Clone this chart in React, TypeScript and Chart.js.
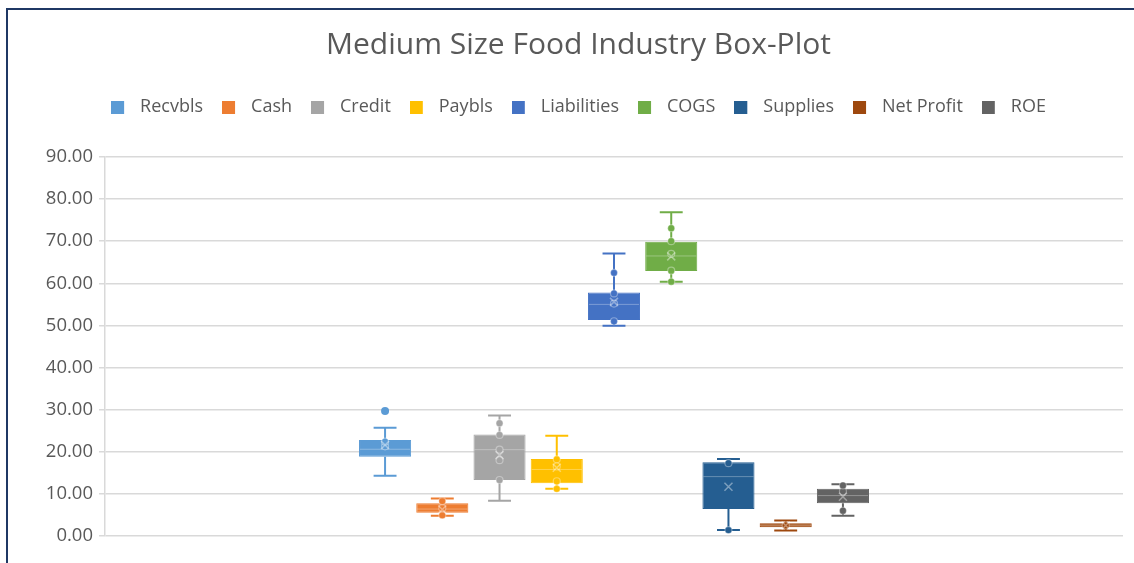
import React, { useEffect, useRef } from "react";
import { Chart, registerables } from "chart.js";

Chart.register(...registerables);

const chartTitle = "Medium Size Food Industry Box-Plot";
const categories = [""];
const seriesNames = ["Recvbls", "Cash", "Credit", "Paybls", "Liabilities", "COGS", "Supplies", "Net Profit", "ROE"];
const seriesColors = ["#5B9BD5", "#ED7D31", "#A5A5A5", "#FFC000", "#4472C4", "#70AD47", "#255E91", "#9E480E", "#636363"];
const minValues = [14.3, 4.8, 8.4, 11.2, 49.9, 60.4, 1.4, 1.3, 4.8];
const q1Values = [18.8, 5.5, 13.3, 12.5, 51.3, 62.9, 6.4, 2.1, 7.8];
const medianValues = [20.6, 6.4, 20.5, 15.8, 55.0, 66.5, 14.1, 2.5, 9.6];
const q3Values = [22.8, 7.8, 24.1, 18.3, 57.8, 69.9, 17.5, 3.0, 11.2];
const maxValues = [25.7, 8.9, 28.6, 23.8, 67.1, 76.9, 18.3, 3.7, 12.3];
const meanValues = [21.6, 6.3, 19.2, 16.2, 55.6, 66.4, 11.7, 2.5, 9.3];
const innerPoints = [
  [21.3, 22.4],
  [4.9, 6.6, 8.3],
  [26.8, 24.0, 20.5, 18.0, 13.3],
  [18.2, 16.5, 13.0, 11.2],
  [62.5, 57.6, 55.2, 51.0],
  [73.1, 70.0, 67.0, 63.0, 60.4],
  [1.4, 17.3],
  [2.5],
  [6.0, 10.6, 12.0],
];
const outlierPoints = [[29.7], [], [], [], [], [], [], [], []];
const yTicks = [0, 10, 20, 30, 40, 50, 60, 70, 80, 90];

const FONT = "'Open Sans', 'Noto Sans', sans-serif";
const TEXT_COLOR = "#595959";
const LEGEND_EXTRA = 31;

const boxPlotPlugin = {
  id: "boxPlotMarks",
  beforeInit(chart: any) {
    const legend = chart.legend;
    if (legend && !legend.__patched) {
      const origFit = legend.fit;
      legend.fit = function () {
        origFit.call(this);
        this.height += LEGEND_EXTRA;
      };
      legend.__patched = true;
    }
  },
  afterDatasetsDraw(chart: any) {
    const ctx = chart.ctx;
    const y = chart.scales.y;
    chart.data.datasets.forEach((ds: any, i: number) => {
      const meta = chart.getDatasetMeta(i);
      const bar: any = meta.data[0];
      if (!bar) return;
      const cx = bar.x;
      const w = bar.width;
      const color = seriesColors[i];
      const py = (v: number) => y.getPixelForValue(v);
      ctx.save();
      ctx.strokeStyle = color;
      ctx.lineWidth = 2;
      ctx.beginPath();
      ctx.moveTo(cx, py(q3Values[i]));
      ctx.lineTo(cx, py(maxValues[i]));
      ctx.moveTo(cx, py(q1Values[i]));
      ctx.lineTo(cx, py(minValues[i]));
      const cap = w * 0.22;
      ctx.moveTo(cx - cap, py(maxValues[i]));
      ctx.lineTo(cx + cap, py(maxValues[i]));
      ctx.moveTo(cx - cap, py(minValues[i]));
      ctx.lineTo(cx + cap, py(minValues[i]));
      ctx.stroke();
      ctx.lineWidth = 1;
      ctx.strokeStyle = "rgba(255,255,255,0.3)";
      ctx.beginPath();
      ctx.moveTo(cx - w / 2 + 1, py(medianValues[i]));
      ctx.lineTo(cx + w / 2 - 1, py(medianValues[i]));
      ctx.stroke();
      innerPoints[i].forEach((v) => {
        ctx.beginPath();
        ctx.arc(cx, py(v), 3.5, 0, Math.PI * 2);
        ctx.fillStyle = color;
        ctx.fill();
        ctx.lineWidth = 1.2;
        ctx.strokeStyle = "rgba(255,255,255,0.35)";
        ctx.stroke();
      });
      outlierPoints[i].forEach((v) => {
        ctx.beginPath();
        ctx.arc(cx, py(v), 4, 0, Math.PI * 2);
        ctx.fillStyle = color;
        ctx.fill();
      });
      const m = py(meanValues[i]);
      ctx.strokeStyle = "rgba(255,255,255,0.4)";
      ctx.lineWidth = 1.5;
      ctx.beginPath();
      ctx.moveTo(cx - 4, m - 4);
      ctx.lineTo(cx + 4, m + 4);
      ctx.moveTo(cx + 4, m - 4);
      ctx.lineTo(cx - 4, m + 4);
      ctx.stroke();
      ctx.restore();
    });
  },
};

function makeLegendSwatch(color: string) {
  const c = document.createElement("canvas");
  c.width = 20;
  c.height = 13;
  const g = c.getContext("2d");
  if (g) {
    g.fillStyle = color;
    g.fillRect(0, 0, 13, 13);
  }
  return c;
}

export default function App() {
  const canvasRef = useRef<HTMLCanvasElement | null>(null);

  useEffect(() => {
    if (!canvasRef.current) return;
    const swatches = seriesColors.map((c) => makeLegendSwatch(c));
    const chart = new Chart(canvasRef.current, {
      type: "bar",
      data: {
        labels: categories,
        datasets: seriesNames.map((name, i) => ({
          label: name,
          data: [[q1Values[i], q3Values[i]]] as any,
          backgroundColor: seriesColors[i],
          borderColor: seriesColors[i],
          borderWidth: 1,
          borderSkipped: false,
          categoryPercentage: 0.506,
          barPercentage: 0.91,
        })),
      },
      options: {
        animation: false,
        responsive: false,
        maintainAspectRatio: false,
        layout: { padding: { left: 26, right: 11, top: 0, bottom: 27 } },
        plugins: {
          title: {
            display: true,
            text: chartTitle,
            color: TEXT_COLOR,
            font: { family: FONT, size: 30, weight: "normal" },
            padding: { top: 17, bottom: 16 },
          },
          legend: {
            display: true,
            labels: {
              color: TEXT_COLOR,
              font: { family: FONT, size: 18 },
              usePointStyle: true,
              pointStyleWidth: 20,
              boxWidth: 20,
              boxHeight: 13,
              padding: 19,
              generateLabels: (ch: any) => {
                const items = Chart.defaults.plugins.legend.labels.generateLabels(ch);
                return items.map((it: any, idx: number) => ({ ...it, pointStyle: swatches[idx] }));
              },
            },
          },
          tooltip: { enabled: false },
        },
        scales: {
          x: { display: false, grid: { display: false } },
          y: {
            min: 0,
            max: 90,
            afterFit: (s: any) => {
              s.width = 71;
            },
            afterBuildTicks: (s: any) => {
              s.ticks = yTicks.map((v) => ({ value: v }));
            },
            ticks: {
              color: TEXT_COLOR,
              font: { family: FONT, size: 18.5 },
              padding: 6,
              callback: (v: any) => Number(v).toFixed(2),
            },
            grid: { color: "#d9d9d9", lineWidth: 1.5, tickLength: 6 },
            border: { display: true, color: "#d9d9d9", width: 1.5 },
          },
        },
      } as any,
      plugins: [boxPlotPlugin],
    });
    return () => chart.destroy();
  }, []);

  return (
    <div
      style={{
        position: "absolute",
        left: 6,
        top: 8,
        width: 1128,
        height: 555,
        borderTop: "2px solid #1F3864",
        borderLeft: "2px solid #1F3864",
        boxSizing: "border-box",
        background: "#ffffff",
      }}
    >
      <canvas ref={canvasRef} width={1126} height={553} style={{ display: "block" }} />
    </div>
  );
}
